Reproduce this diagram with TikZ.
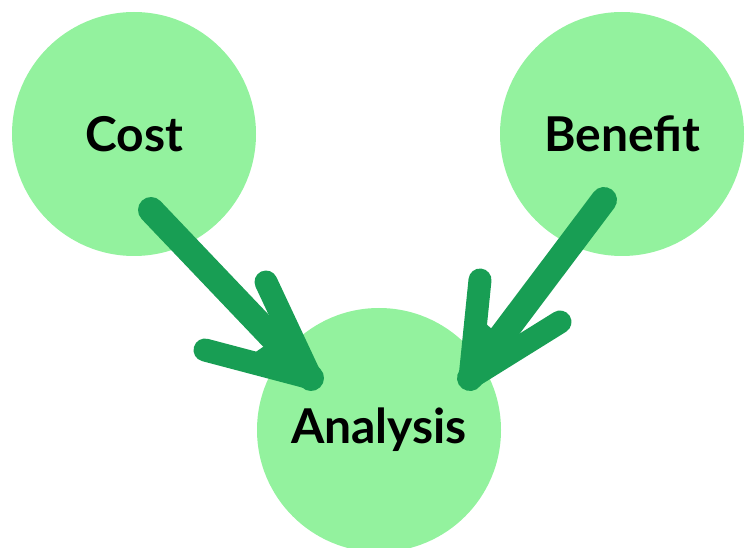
\documentclass[tikz,border=0pt]{standalone}
\usepackage{fontspec}
\setmainfont{Lato}
\usepackage{tikz}
\usetikzlibrary{calc}
\definecolor{bubblecolor}{RGB}{147,242,158}
\definecolor{brushcolor}{RGB}{24,158,84}

\begin{document}
\begin{tikzpicture}[x=1pt, y=-1pt,
    bubble/.style={circle, fill=bubblecolor, minimum size=244pt, inner sep=0pt,
        font=\fontsize{48}{54}\selectfont\bfseries},
    brush/.style={draw=brushcolor, line width=26pt, line cap=round, line join=round},
    barb/.style={draw=brushcolor, line width=23pt, line cap=round, line join=round}]
    \useasboundingbox (0,0) rectangle (745,548);

    % Circles
    \node[bubble] (cost) at (134,134) {Cost};
    \node[bubble] (benefit) at (622,134) {Benefit};
    \node[bubble] (analysis) at (379,430) {Analysis};

    % Cost -> Analysis
    \coordinate (costtail) at ($(cost.center)+(17,76)$);
    \coordinate (costtip) at (311,378);
    \draw[brush] (costtail) -- (costtip);
    \draw[barb] (costtip) -- (266,282);
    \draw[barb] (costtip) -- (205,350);
    \filldraw[brushcolor, line width=14pt, line join=round]
        (costtip) -- ($(costtip)!0.55!(266,282)$) -- ($(costtip)!0.2!(costtail)$)
        -- ($(costtip)!0.55!(205,350)$) -- cycle;

    % Benefit -> Analysis
    \coordinate (benefittail) at ($(benefit.center)+(-18,66)$);
    \coordinate (benefittip) at (470,378);
    \draw[brush] (benefittail) -- (benefittip);
    \draw[barb] (benefittip) -- (480,280);
    \draw[barb] (benefittip) -- (560,322);
    \filldraw[brushcolor, line width=14pt, line join=round]
        (benefittip) -- ($(benefittip)!0.55!(480,280)$) -- ($(benefittip)!0.2!(benefittail)$)
        -- ($(benefittip)!0.55!(560,322)$) -- cycle;
\end{tikzpicture}
\end{document}
